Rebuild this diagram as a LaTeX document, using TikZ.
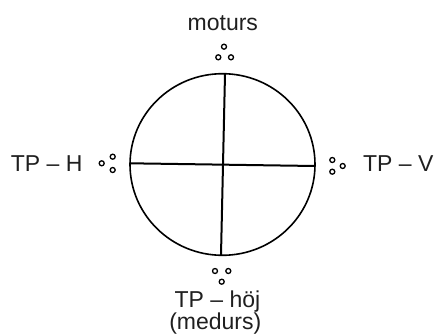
\documentclass[tikz,border=0pt]{standalone}
\usepackage{fontspec}
\setmainfont{Liberation Sans}
\begin{document}
\begin{tikzpicture}[x=1pt,y=-1pt,
  lbl/.style={font=\fontsize{23}{24}\selectfont, text=black!88, inner sep=0pt, anchor=base},
  dot/.style={circle, draw=black, line width=1.3pt, minimum size=5pt, inner sep=0pt},
  rim/.style={draw=black, line width=1.6pt},
  cross/.style={draw=black, line width=2pt}]
\useasboundingbox (0,0) rectangle (435,334);
% dial
\draw[rim] (222.5,164.5) ellipse [x radius=92.5pt, y radius=90.8pt];
\coordinate (hl) at (130.2,163.3);
\coordinate (hr) at (314.8,166);
\coordinate (vt) at (225,74);
\coordinate (vb) at (221,255);
\draw[cross] (hl) -- (hr);
\draw[cross] (vt) -- (vb);
% dots
\node[dot] (t1) at (224,46.7) {};
\node[dot] (t2) at (218.3,57.3) {};
\node[dot] (t3) at (231,57.3) {};
\node[dot] (l1) at (101.7,163.3) {};
\node[dot] (l2) at (112.7,156.7) {};
\node[dot] (l3) at (112.7,170) {};
\node[dot] (r1) at (332.3,160) {};
\node[dot] (r2) at (332.3,171.7) {};
\node[dot] (r3) at (342.7,166) {};
\node[dot] (b1) at (215,271) {};
\node[dot] (b2) at (228.3,271) {};
\node[dot] (b3) at (221.7,281.7) {};
% labels
\node[lbl] (mot) at (222.8,31) {moturs};
\node[lbl] (tph) at (46.7,171.7) {TP – H};
\node[lbl] (tpv) at (398.3,171.7) {TP – V};
\node[lbl] (hoj) at (217.5,307.5) {TP – höj};
\node[lbl] (med) at (215.3,329) {(medurs)};
\end{tikzpicture}
\end{document}
